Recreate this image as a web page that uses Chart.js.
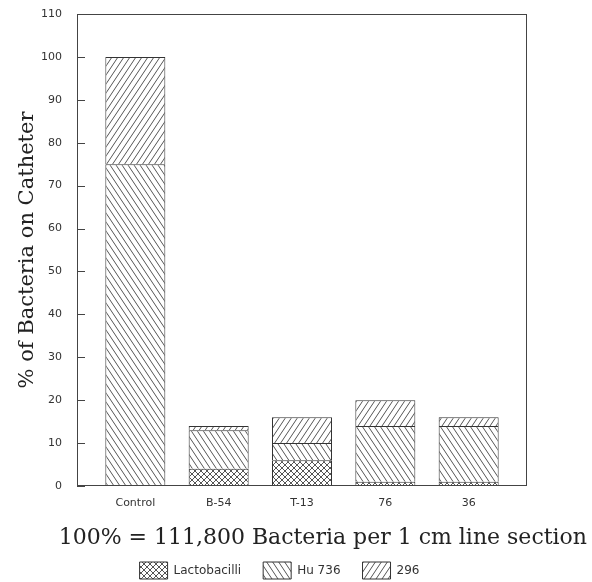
<!DOCTYPE html>
<html>
<head>
<meta charset="utf-8">
<script src="https://cdn.jsdelivr.net/npm/chart.js@4"></script>
<style>
  html, body { margin: 0; padding: 0; background: #fff; }
</style>
</head>
<body>
<canvas id="bacteria" width="592" height="582"></canvas>
<script>
"use strict";

// categories (strains on the catheter)
const categories = ['Control', 'B-54', 'T-13', '76', '36'];
// % of bacteria per strain, stacked bottom -> top
const lactobacilli = [0, 4, 6, 1, 1];
const hu736 = [75, 9, 4, 13, 13];
const s296 = [25, 1, 6, 6, 2];
// y axis
const yMax = 110;
const yStep = 10;

// hatch pattern for the bars
function hatch(dirs, w, h) {
	const c = document.createElement('canvas');
	c.width = w;
	c.height = h;
	const g = c.getContext('2d');
	g.fillStyle = '#fff';
	g.fillRect(0, 0, w, h);
	g.strokeStyle = '#555';
	g.lineWidth = 1;
	g.beginPath();
	for (const d of dirs) {
		for (let k = -1; k <= 1; k++) {
			if (d === '\\') {
				g.moveTo(k * w - w, -h);
				g.lineTo(k * w + 2 * w, 2 * h);
			} else {
				g.moveTo(k * w - w, 2 * h);
				g.lineTo(k * w + 2 * w, -h);
			}
		}
	}
	g.stroke();
	return g.createPattern(c, 'repeat');
}

const patLacto = hatch(['\\', '/'], 6, 6);
const patHu = hatch(['\\'], 6, 9);
const pat296 = hatch(['/'], 6, 9);

// x/y points, x = category index
function points(values) {
	return values.map((v, i) => ({ x: i, y: v }));
}

// frame around the plot area + y ticks pointing inwards
const framePlugin = {
	id: 'frame',
	afterDatasetsDraw(chart) {
		const { ctx, chartArea: a } = chart;
		const yScale = chart.scales.y;
		ctx.save();
		ctx.strokeStyle = '#444';
		ctx.lineWidth = 1;
		ctx.strokeRect(Math.round(a.left) + 0.5, Math.round(a.top) + 0.5,
			Math.round(a.right - a.left) - 1, Math.round(a.bottom - a.top) - 1);
		ctx.beginPath();
		for (const t of yScale.ticks) {
			const py = Math.round(yScale.getPixelForValue(t.value)) + 0.5;
			ctx.moveTo(a.left, py);
			ctx.lineTo(a.left + 8, py);
		}
		ctx.stroke();
		ctx.restore();
	}
};

Chart.defaults.font.family = "'DejaVu Sans', sans-serif";
Chart.defaults.color = '#333';

const barStyle = {
	borderColor: '#333',
	borderWidth: 1,
	borderSkipped: 'start',
	categoryPercentage: 1,
	barPercentage: 0.72
};

new Chart(document.getElementById('bacteria').getContext('2d'), {
	type: 'bar',
	data: {
		datasets: [
			Object.assign({ label: 'Lactobacilli', data: points(lactobacilli), backgroundColor: patLacto }, barStyle),
			Object.assign({ label: 'Hu 736', data: points(hu736), backgroundColor: patHu }, barStyle),
			Object.assign({ label: '296', data: points(s296), backgroundColor: pat296 }, barStyle)
		]
	},
	options: {
		responsive: false,
		animation: false,
		layout: { padding: { top: 14, right: 5, bottom: -7, left: -28 } },
		scales: {
			x: {
				type: 'linear',
				stacked: true,
				offset: false,
				bounds: 'data',
				min: -0.7,
				max: 4.7,
				grid: { display: false, drawTicks: false, offset: false },
				border: { display: false },
				afterBuildTicks: (scale) => {
					scale.ticks = categories.map((c, i) => ({ value: i }));
				},
				afterFit: (scale) => { scale.height = 20; },
				ticks: {
					autoSkip: false,
					maxRotation: 0,
					padding: 11,
					font: { size: 11 },
					callback: (value) => categories[value]
				}
			},
			y: {
				stacked: true,
				min: 0,
				max: yMax,
				grid: {
					drawOnChartArea: false,
					drawTicks: true,
					tickLength: 15,
					tickColor: 'transparent'
				},
				border: { display: false },
				afterFit: (scale) => { scale.width = 105; },
				ticks: {
					stepSize: yStep,
					padding: 0,
					font: { size: 11 }
				},
				title: {
					display: true,
					text: '% of Bacteria on Catheter',
					color: '#222',
					font: { family: "'DejaVu Serif', serif", size: 21, lineHeight: 1.2 },
					padding: { top: 43, bottom: 0 }
				}
			},
			y2: {
				type: 'linear',
				axis: 'y',
				position: 'right',
				grid: { display: false, drawTicks: false },
				border: { display: false },
				ticks: { display: false },
				afterFit: (scale) => { scale.width = 60; }
			}
		},
		plugins: {
			tooltip: { enabled: false },
			title: {
				display: true,
				position: 'bottom',
				align: 'end',
				weight: 500,
				text: '100% = 111,800 Bacteria per 1 cm line section',
				color: '#222',
				font: { family: "'DejaVu Serif', serif", size: 22, weight: 'normal', lineHeight: '4px' },
				padding: { top: 30, bottom: 0 }
			},
			legend: {
				display: true,
				position: 'bottom',
				labels: {
					boxWidth: 28,
					boxHeight: 17,
					padding: 22,
					color: '#333',
					font: { size: 12 }
				}
			}
		}
	},
	plugins: [framePlugin]
});
</script>
</body>
</html>
